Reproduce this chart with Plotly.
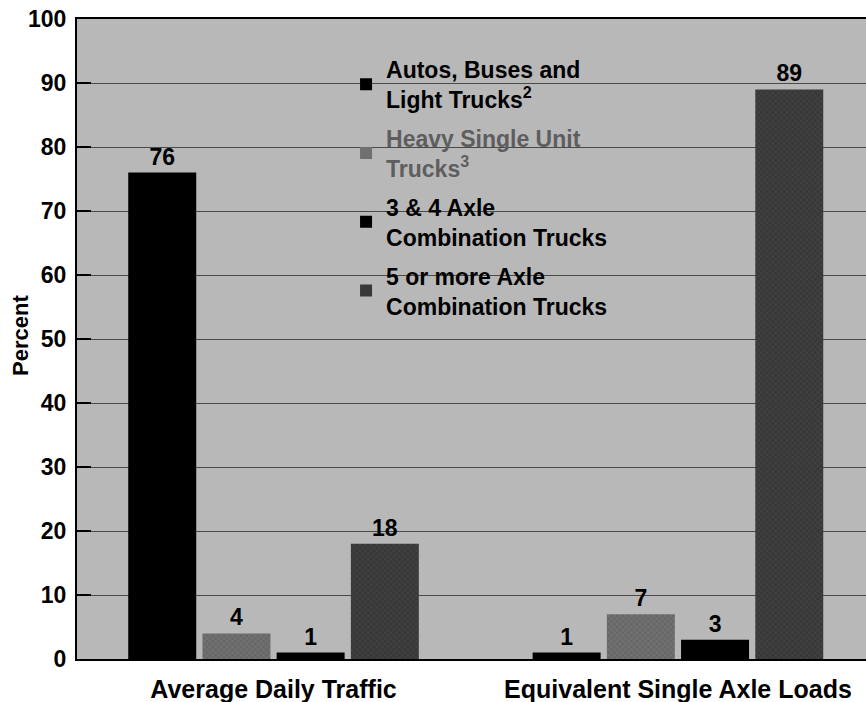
import plotly.graph_objects as go

categories = ["Average Daily Traffic", "Equivalent Single Axle Loads"]
series_names = [
    "Autos, Buses and<br>Light Trucks<sup>2</sup>",
    "<span style='color:#5e5e5e'>Heavy Single Unit<br>Trucks<sup>3</sup></span>",
    "3 &amp; 4 Axle<br>Combination Trucks",
    "5 or more Axle<br>Combination Trucks",
]
autos = [76, 1]
heavy_single = [4, 7]
axle_3_4 = [1, 3]
axle_5_plus = [18, 89]
y_ticks = [0, 10, 20, 30, 40, 50, 60, 70, 80, 90, 100]
y_title = "Percent"

series_values = [autos, heavy_single, axle_3_4, axle_5_plus]
colors = ["#000000", "#707070", "#000000", "#383838"]
patterns = ["", "x", "", "x"]
pattern_fg = ["#000000", "#4a4a4a", "#000000", "#555555"]

FONT = "Liberation Sans, Arial, Helvetica, sans-serif"

fig = go.Figure()
for i, (name, vals) in enumerate(zip(series_names, series_values)):
    fig.add_trace(go.Bar(
        x=categories, y=vals, name=name,
        marker=dict(color=colors[i], line=dict(width=0),
                    pattern=dict(shape=patterns[i], fgcolor=pattern_fg[i], size=4, solidity=0.3)),
        text=[str(v) for v in vals], textposition="outside",
        textfont=dict(family=FONT, size=23, color="#000000", weight="bold"),
        cliponaxis=False,
        showlegend=False,
    ))
    # legend-only entry with larger square swatch
    fig.add_trace(go.Scatter(
        x=[None], y=[None], mode="markers", name=name,
        marker=dict(symbol="square", size=21, color=colors[i]),
        legendgroup=f"g{i}", showlegend=True,
    ))

fig.update_layout(
    width=866, height=702,
    margin=dict(l=77, r=0, t=19, b=43),
    paper_bgcolor="white",
    plot_bgcolor="#b8b8b8",
    barmode="group",
    bargap=0.266,
    bargroupgap=0.084,
    font=dict(family=FONT, size=23, color="#000000"),
    showlegend=True,
    legend=dict(
        x=0.341, y=0.955, xanchor="left", yanchor="top",
        bgcolor="rgba(0,0,0,0)", borderwidth=0,
        font=dict(family=FONT, size=23, color="#000000", weight="bold"),
        traceorder="grouped", tracegroupgap=6,
        itemsizing="constant",
    ),
    xaxis=dict(
        range=[-0.486, 1.465],
        automargin=False,
        showline=True, linecolor="#000000", linewidth=2, mirror=True,
        ticks="", showgrid=False,
        tickfont=dict(family=FONT, size=25, color="#000000", weight="bold"),
        ticklabelstandoff=7,
        ticklabeloverflow="allow",
    ),
    yaxis=dict(
        range=[0, 100],
        automargin=False,
        tickvals=y_ticks,
        showline=True, linecolor="#000000", linewidth=2,
        ticks="inside", ticklen=14, tickcolor="#000000", tickwidth=2,
        showgrid=True, gridcolor="#4a4a4a", gridwidth=1,
        zeroline=False,
        tickfont=dict(family=FONT, size=23, color="#000000", weight="bold"),
        ticklabelstandoff=4,
        ticklabeloverflow="allow",
    ),
    annotations=[dict(
        text=y_title, textangle=-90,
        xref="paper", yref="paper", x=0, y=0.5,
        xanchor="center", yanchor="middle", xshift=-57, yshift=3,
        showarrow=False,
        font=dict(family=FONT, size=22, color="#000000", weight="bold"),
    )],
)

# remove the default 8px page margin so the figure fills the window exactly
fig.write_html("out.html", config={"displayModeBar": False},
               post_script="document.body.style.margin='0';")
